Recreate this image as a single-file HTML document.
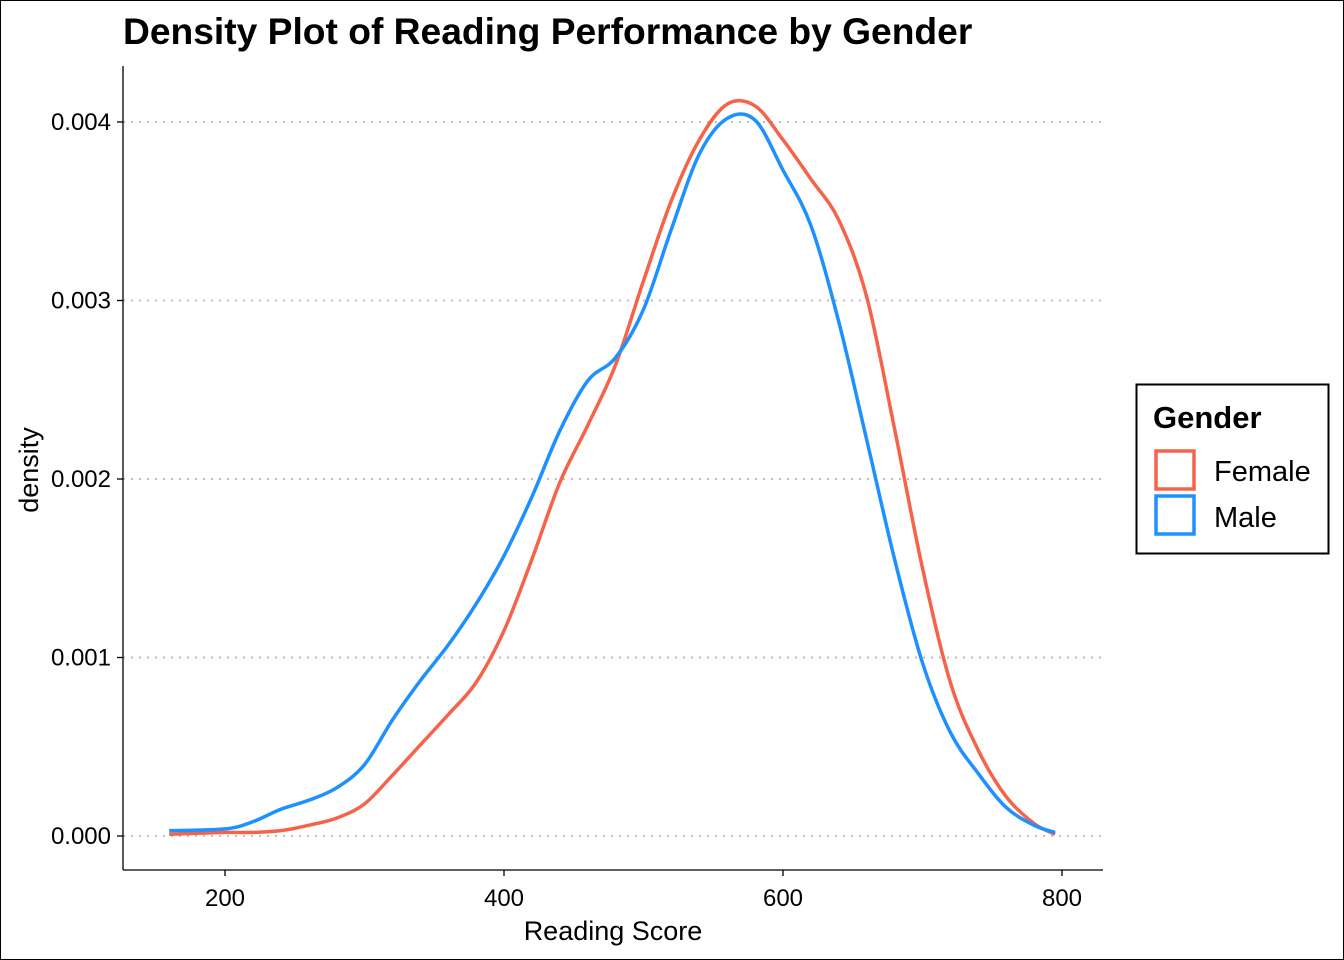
<!DOCTYPE html>
<html><head><meta charset="utf-8"><style>
html,body{margin:0;padding:0;background:#fff}
svg{display:block;font-family:"Liberation Sans",Arial,sans-serif}
</style></head><body>
<svg id="chart" width="1344" height="960" viewBox="0 0 1344 960">
<rect x="0.5" y="0.5" width="1343" height="959" fill="#fff" stroke="#000"/>
<text x="123" y="44" font-size="37.2" font-weight="bold">Density Plot of Reading Performance by Gender</text>
<g id="grid"></g>
<line x1="123" y1="66" x2="123" y2="870" stroke="#000" stroke-width="1.3"/>
<line x1="123" y1="870" x2="1103" y2="870" stroke="#000" stroke-width="1.3"/>
<g id="ticks"></g>
<g id="curves"></g>
<text x="613" y="940" font-size="27" text-anchor="middle">Reading Score</text>
<text transform="translate(38,470) rotate(-90)" font-size="27" text-anchor="middle">density</text>
<g>
<rect x="1136.5" y="384.5" width="192" height="169" fill="#fff" stroke="#000" stroke-width="2"/>
<text x="1153" y="428" font-size="31" font-weight="bold">Gender</text>
<g>
<rect x="1156" y="451" width="38" height="38" fill="none" stroke="#F4634A" stroke-width="3.5"/>
<text x="1214" y="481" font-size="29">Female</text></g>
<g>
<rect x="1156" y="496" width="38" height="38" fill="none" stroke="#1E90FF" stroke-width="3.5"/>
<text x="1214" y="527" font-size="29">Male</text></g>
</g>
</svg>
<script>
const scores=[160,200,220,240,260,280,300,320,340,360,380,400,420,440,460,480,500,520,540,560,580,600,620,640,660,680,700,720,740,760,780,795];
const femaleDensity=[0.00001,0.00002,0.00002,0.00003,0.00006,0.0001,0.00018,0.00034,0.00051,0.00068,0.00086,0.00115,0.00155,0.00198,0.0023,0.00264,0.00311,0.00356,0.0039,0.0041,0.00409,0.0039,0.00368,0.00345,0.00302,0.00228,0.0015,0.00086,0.00048,0.00022,0.00007,0.00001];
const maleDensity=[0.00003,0.00004,0.00008,0.00015,0.0002,0.00027,0.0004,0.00065,0.00087,0.00107,0.0013,0.00157,0.0019,0.00227,0.00255,0.00268,0.00295,0.0034,0.00382,0.00402,0.00401,0.00373,0.00342,0.00288,0.00222,0.00155,0.00097,0.00058,0.00035,0.00016,0.00006,0.00002];
const xTicks=[200,400,600,800];
const yTicks=[0,0.001,0.002,0.003,0.004];
const yTickLabels=["0.000","0.001","0.002","0.003","0.004"];
const NS="http://www.w3.org/2000/svg";
function xs(v){return 225+(v-200)*(1062-225)/600;}
function ys(v){return 836-v*(836-122)/0.004;}
function mk(t,a,p){const e=document.createElementNS(NS,t);for(const k in a)e.setAttribute(k,a[k]);p.appendChild(e);return e;}
const grid=document.getElementById('grid'),ticks=document.getElementById('ticks'),curves=document.getElementById('curves');
yTicks.forEach((v,i)=>{
 const g=mk('line',{x1:123,x2:1103,y1:ys(v),y2:ys(v),stroke:'#bdbdbd','stroke-width':2,'stroke-dasharray':'2 6'},grid);
 
 
 const t=mk('line',{x1:117,x2:123,y1:ys(v),y2:ys(v),stroke:'#000','stroke-width':1.3},ticks);
 
 
 const l=mk('text',{x:111,y:ys(v)+8,'font-size':24,'text-anchor':'end'},ticks);
 l.textContent=yTickLabels[i];
 
 
});
xTicks.forEach(v=>{
 const t=mk('line',{x1:xs(v),x2:xs(v),y1:870,y2:876,stroke:'#000','stroke-width':1.3},ticks);
 
 
 const l=mk('text',{x:xs(v),y:906,'font-size':24,'text-anchor':'middle'},ticks);
 l.textContent=v;
 
 
});
function path(vals){
 const p=scores.map((s,i)=>[xs(s),ys(vals[i])]);
 let d='M'+p[0][0]+','+p[0][1];
 for(let i=0;i<p.length-1;i++){
  const p0=p[i-1]||p[i],p1=p[i],p2=p[i+1],p3=p[i+2]||p2;
  const c1=[p1[0]+(p2[0]-p0[0])/6,p1[1]+(p2[1]-p0[1])/6];
  const c2=[p2[0]-(p3[0]-p1[0])/6,p2[1]-(p3[1]-p1[1])/6];
  d+=' C'+c1+' '+c2+' '+p2;
 }
 return d;
}
const f=mk('path',{d:path(femaleDensity),fill:'none',stroke:'#F4634A','stroke-width':3.5},curves);


const m=mk('path',{d:path(maleDensity),fill:'none',stroke:'#1E90FF','stroke-width':3.5},curves);


</script>
</body></html>
